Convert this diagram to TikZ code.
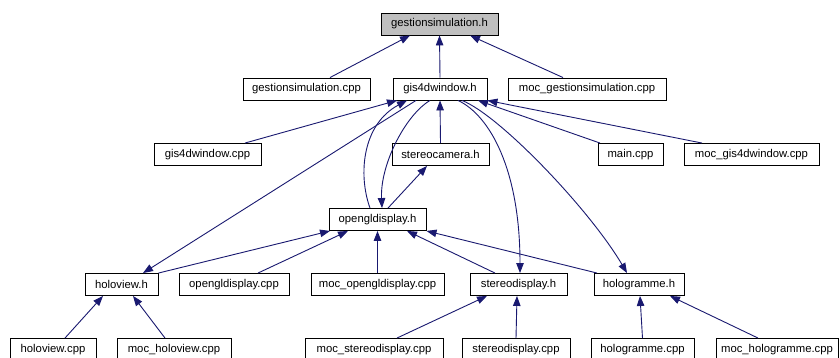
\documentclass[tikz,border=0pt]{standalone}
\usepackage{fontspec}
\setmainfont{Liberation Sans}
\usetikzlibrary{arrows.meta}
\definecolor{edgeblue}{HTML}{191970}
\definecolor{rootgray}{HTML}{BFBFBF}
\begin{document}
\begin{tikzpicture}[x=1pt,y=-1pt,
  file/.style={draw=black,line width=0.9pt,fill=white,minimum height=22pt,inner sep=0pt,
    font=\fontsize{11.3}{13}\selectfont,text=black},
  dep/.style={draw=edgeblue,line width=0.9pt,-{Triangle[length=10pt,width=7.5pt]}}]
\useasboundingbox (0,0) rectangle (840,358);
\fill[white] (0,0) rectangle (840,358);
% row 0
\node[file,fill=rootgray,minimum width=117pt] (gsh) at (439.5,24) {gestionsimulation.h};
% row 1
\node[file,minimum width=127pt] (gscpp) at (306.5,89) {gestionsimulation.cpp};
\node[file,minimum width=94pt] (gfh) at (440,89) {gis4dwindow.h};
\node[file,minimum width=158pt] (mocgs) at (587,89) {moc\_gestionsimulation.cpp};
% row 2
\node[file,minimum width=107pt] (gfcpp) at (207.5,154.5) {gis4dwindow.cpp};
\node[file,minimum width=97pt] (sch) at (440.5,154.5) {stereocamera.h};
\node[file,minimum width=65pt] (maincpp) at (630.5,154.5) {main.cpp};
\node[file,minimum width=135pt] (mocgf) at (751.5,154.5) {moc\_gis4dwindow.cpp};
% row 3
\node[file,minimum width=97pt] (oglh) at (377.5,219.5) {opengldisplay.h};
% row 4
\node[file,minimum width=73pt] (hvh) at (121.5,284.5) {holoview.h};
\node[file,minimum width=110pt] (oglcpp) at (234,284.5) {opengldisplay.cpp};
\node[file,minimum width=133pt] (mocogl) at (377.5,284.5) {moc\_opengldisplay.cpp};
\node[file,minimum width=97pt] (sdh) at (518.5,284.5) {stereodisplay.h};
\node[file,minimum width=90pt] (hgh) at (639,284.5) {hologramme.h};
% row 5
\node[file,minimum width=86pt] (hvcpp) at (53,349.5) {holoview.cpp};
\node[file,minimum width=114pt] (mochv) at (174,349.5) {moc\_holoview.cpp};
\node[file,minimum width=138pt] (mocsd) at (374,349.5) {moc\_stereodisplay.cpp};
\node[file,minimum width=108pt] (sdcpp) at (516,349.5) {stereodisplay.cpp};
\node[file,minimum width=103pt] (hgcpp) at (642.5,349.5) {hologramme.cpp};
\node[file,minimum width=122pt] (mochg) at (777,349.5) {moc\_hologramme.cpp};
% edges to gestionsimulation.h
\draw[dep] ([xshift=23.5pt]gscpp.north) -- ([xshift=-29.5pt]gsh.south);
\draw[dep] (gfh.north) -- (gsh.south);
\draw[dep] ([xshift=-24pt]mocgs.north) -- ([xshift=30.5pt]gsh.south);
% edges to gis4dwindow.h
\draw[dep] ([xshift=37.5pt]gfcpp.north) -- ([xshift=-43pt]gfh.south);
\draw[dep] (sch.north) -- (gfh.south);
\draw[dep] ([xshift=-30.5pt]maincpp.north) -- ([xshift=38pt]gfh.south);
\draw[dep] ([xshift=-49.5pt]mocgf.north) -- (gfh.south east);
\draw[dep] ([xshift=-7.5pt]oglh.north) .. controls +(-12,-33) and +(-45,24) .. ([xshift=-33pt]gfh.south);
% edges from gis4dwindow.h down
\draw[dep] ([xshift=-10pt]gfh.south) .. controls +(-25,15) and +(-2,-43) .. ([xshift=4.5pt]oglh.north);
\draw[dep] ([xshift=-24pt]gfh.south) -- ([xshift=21.5pt]hvh.north);
\draw[dep] ([xshift=18pt]gfh.south) .. controls +(32,15) and +(0,-103) .. ([xshift=1.5pt]sdh.north);
\draw[dep] ([xshift=22pt]gfh.south) .. controls +(38,15) and +(-37,-63) .. ([xshift=-12pt]hgh.north);
% opengldisplay.h -> stereocamera.h
\draw[dep] ([xshift=10.5pt]oglh.north) -- ([xshift=-13.5pt]sch.south);
% edges to opengldisplay.h
\draw[dep] (hvh.north east) -- ([xshift=-47.5pt]oglh.south);
\draw[dep] ([xshift=24pt]oglcpp.north) -- ([xshift=-29.5pt]oglh.south);
\draw[dep] (mocogl.north) -- (oglh.south);
\draw[dep] ([xshift=-23.5pt]sdh.north) -- ([xshift=29.5pt]oglh.south);
\draw[dep] ([xshift=-42pt]hgh.north) -- ([xshift=49pt]oglh.south);
% bottom row
\draw[dep] ([xshift=12pt]hvcpp.north) -- ([xshift=-18.5pt]hvh.south);
\draw[dep] ([xshift=-9pt]mochv.north) -- ([xshift=11.5pt]hvh.south);
\draw[dep] ([xshift=23pt]mocsd.north) -- ([xshift=-31.5pt]sdh.south);
\draw[dep] (sdcpp.north) -- ([xshift=-1.5pt]sdh.south);
\draw[dep] (hgcpp.north) -- ([xshift=1pt]hgh.south);
\draw[dep] ([xshift=-19pt]mochg.north) -- ([xshift=31pt]hgh.south);
\end{tikzpicture}
\end{document}
